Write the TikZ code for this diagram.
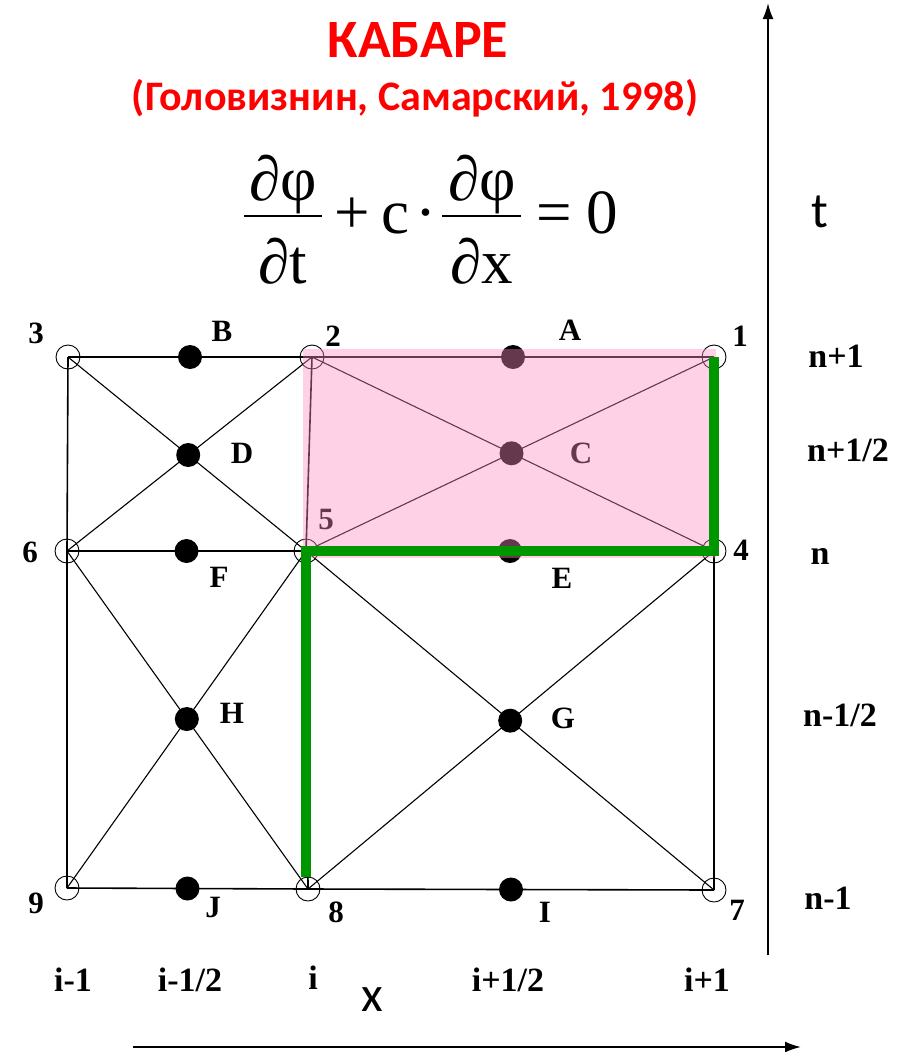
\documentclass[tikz,border=0pt]{standalone}
\usepackage{fontspec}
\setmainfont{Liberation Serif}
\newfontfamily\titlefont{Carlito}
\usetikzlibrary{arrows.meta,calc}
\definecolor{kred}{RGB}{255,0,0}
\definecolor{kgreen}{RGB}{0,150,0}
\definecolor{kpink}{RGB}{255,140,196}
\begin{document}
\begin{tikzpicture}[x=1pt,y=-1pt,
 gridline/.style={line width=1.6pt},
 diagline/.style={line width=1.1pt},
 opennode/.style={circle,draw,line width=0.9pt,minimum size=24pt,inner sep=0pt},
 dotnode/.style={circle,fill,minimum size=24pt,inner sep=0pt},
 lab/.style={font=\fontsize{31}{32}\selectfont\bfseries,inner sep=0pt},
 axlab/.style={font=\fontsize{34}{36}\selectfont\bfseries,inner sep=0pt},
 eqpart/.style={font=\fontsize{63}{66}\selectfont,inner sep=0pt,anchor=base},
 sanslab/.style={font=\titlefont\fontsize{50}{52}\selectfont,inner sep=0pt},
 axis/.style={line width=2pt,-{Latex[length=16pt,width=11pt]}},
]
\useasboundingbox (0,0) rectangle (904,1052);
% title
\node[font=\titlefont\bfseries\fontsize{54}{58}\selectfont,text=kred] (title) at (418,40) {КАБАРЕ};
\node[font=\titlefont\bfseries\fontsize{42}{46}\selectfont,text=kred] (subtitle) at (415,98) {(Головизнин, Самарский, 1998)};
% equation
\node[eqpart] (num1) at (283,200) {∂φ};
\node[eqpart] (den1) at (283,283) {∂t};
\draw[line width=2.8pt] (244,216) -- (322,216);
\node[eqpart] (plus) at (352,233) {+};
\node[eqpart] (cc) at (395,233) {c};
\node[eqpart] (cdot) at (426,233) {·};
\node[eqpart] (num2) at (482,200) {∂φ};
\node[eqpart] (den2) at (482,283) {∂x};
\draw[line width=2.8pt] (442,216) -- (521,216);
\node[eqpart] (eqs) at (554,233) {=};
\node[eqpart] (zero) at (602,233) {0};
% grid coordinates
\coordinate (p3) at (68,357);
\coordinate (p2) at (312,357);
\coordinate (p1) at (714,357);
\coordinate (p6) at (67,551);
\coordinate (p5) at (306,551);
\coordinate (p4) at (714,551);
\coordinate (p9) at (67,888);
\coordinate (p8) at (308,889);
\coordinate (p7) at (714,890);
% lines
\draw[gridline] (p3) -- (p2) -- (p1);
\draw[gridline] (p6) -- (p5) -- (p4);
\draw[gridline] (p9) -- (p8) -- (p7);
\draw[gridline] (p3) -- (p6) -- (p9);
\draw[gridline] (p2) -- (p5) -- (p8);
\draw[gridline] (p1) -- (p4) -- (p7);
\draw[diagline] (p3) -- (p5);
\draw[diagline] (p2) -- (p6);
\draw[diagline] (p2) -- (p4);
\draw[diagline] (p1) -- (p5);
\draw[diagline] (p6) -- (p8);
\draw[diagline] (p5) -- (p9);
\draw[diagline] (p5) -- (p7);
\draw[diagline] (p4) -- (p8);
% open nodes
\foreach \k in {1,...,9} {\node[opennode] (n\k) at (p\k) {};}
% filled nodes
\node[dotnode] (B) at ($(p3)!0.5!(p2)$) {};
\node[dotnode] (A) at ($(p2)!0.5!(p1)$) {};
\node[dotnode] (F) at ($(p6)!0.5!(p5)$) {};
\node[dotnode] (E) at ($(p5)!0.5!(p4)$) {};
\node[dotnode] (J) at ($(p9)!0.5!(p8)$) {};
\node[dotnode] (I) at ($(p8)!0.5!(p7)$) {};
\node[dotnode] (D) at (intersection of p3--p5 and p2--p6) {};
\node[dotnode] (C) at (intersection of p2--p4 and p1--p5) {};
\node[dotnode] (H) at (intersection of p6--p8 and p5--p9) {};
\node[dotnode] (G) at (intersection of p5--p7 and p4--p8) {};
% labels
\node[lab] (l3) at (36,333) {3};
\node[lab] (lB) at (222,331) {B};
\node[lab] (l2) at (333,336) {2};
\node[lab] (lA) at (570,330) {A};
\node[lab] (l1) at (740,336) {1};
\node[lab] (lD) at (242,453) {D};
\node[lab] (lC) at (581,453) {C};
\node[lab] (l5) at (326,519) {5};
\node[lab] (l6) at (30,552) {6};
\node[lab] (lF) at (219,577) {F};
\node[lab] (lE) at (562,578) {E};
\node[lab] (l4) at (741,550) {4};
\node[lab] (lH) at (232,713) {H};
\node[lab] (lG) at (563,718) {G};
\node[lab] (l9) at (36,903) {9};
\node[lab] (lJ) at (213,907) {J};
\node[lab] (l8) at (336,912) {8};
\node[lab] (lI) at (545,912) {I};
\node[lab] (l7) at (737,910) {7};
% pink overlay
\fill[kpink,fill opacity=0.4] (303,349) rectangle (716,558);
% green path
\draw[kgreen,line width=10pt,line join=miter] (n1.center) -- (n4.center) -- (n5.center) -- ($(n8.center)+(-2,-12)$);
% time levels
\node[axlab] (tn1) at (836,356) {n+1};
\node[axlab] (tn12) at (848,450) {n+1/2};
\node[axlab] (tn) at (820,556) {n};
\node[axlab] (tnm12) at (840,715) {n-1/2};
\node[axlab] (tnm1) at (828,898) {n-1};
% space levels
\node[axlab] (xi1) at (73,980) {i-1};
\node[axlab] (xi12) at (190,980) {i-1/2};
\node[axlab] (xi) at (313,978) {i};
\node[axlab] (xip12) at (508,980) {i+1/2};
\node[axlab] (xip1) at (707,980) {i+1};
% axes
\coordinate (tbot) at (768,955);
\coordinate (ttop) at (768,3);
\draw[axis] (tbot) -- (ttop);
\coordinate (xl) at (133,1047);
\coordinate (xr) at (801,1047);
\draw[axis] (xl) -- (xr);
\node[sanslab] (tlab) at (820,212) {t};
\node[sanslab] (xlab) at (372,1000) {x};
\end{tikzpicture}
\end{document}
